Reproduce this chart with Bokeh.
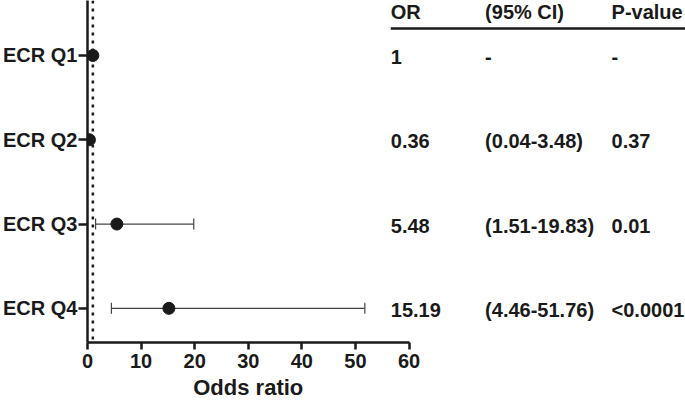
from bokeh.plotting import figure
from bokeh.models import Range1d, FixedTicker, Whisker, TeeHead, ColumnDataSource, Span, Label
from bokeh.core.properties import value
from bokeh.embed import file_html
from bokeh.resources import INLINE

categories = ["ECR Q1", "ECR Q2", "ECR Q3", "ECR Q4"]
odds_ratio = [1, 0.36, 5.48, 15.19]
# error bars drawn in the picture (only Q3 and Q4 show whiskers)
bar_categories = ["ECR Q3", "ECR Q4"]
bar_lower = [1.51, 4.46]
bar_upper = [19.83, 51.76]
or_text = ["1", "0.36", "5.48", "15.19"]
ci_text = ["-", "(0.04-3.48)", "(1.51-19.83)", "(4.46-51.76)"]
p_text = ["-", "0.37", "0.01", "<0.0001"]
headers = ["OR", "(95% CI)", "P-value"]
x_ticks = [0, 10, 20, 30, 40, 50, 60]
reference_line = 1

FONT = value("Liberation Sans")
INK = "#1a1a1a"
X_END = 111.6

ypos = [i + 1 for i in range(len(categories))]
pos_of = dict(zip(categories, ypos))

p = figure(width=685, height=410, output_backend="svg", toolbar_location=None,
           x_range=Range1d(0, X_END), y_range=Range1d(4.405, 0.348),
           min_border_left=86, min_border_right=0, min_border_top=0, min_border_bottom=68)
p.outline_line_color = None
p.grid.visible = False
p.background_fill_color = "white"

# axes
p.xaxis.bounds = (0, 60)
p.xaxis.ticker = FixedTicker(ticks=x_ticks)
p.xaxis.minor_tick_line_color = None
p.xaxis.major_tick_out = 7
p.xaxis.major_tick_in = 0
p.xaxis.axis_line_width = 2.5
p.xaxis.major_tick_line_width = 2.5
p.xaxis.axis_line_color = INK
p.xaxis.major_tick_line_color = INK
p.xaxis.major_label_text_font = "Liberation Sans"
p.xaxis.major_label_text_font_style = "bold"
p.xaxis.major_label_text_font_size = "20px"
p.xaxis.major_label_text_color = INK
p.xaxis.major_label_standoff = 4

p.yaxis.ticker = FixedTicker(ticks=ypos)
p.yaxis.major_label_overrides = {y: c for y, c in zip(ypos, categories)}
p.yaxis.minor_tick_line_color = None
p.yaxis.major_tick_out = 9
p.yaxis.major_tick_in = 0
p.yaxis.axis_line_width = 2.5
p.yaxis.major_tick_line_width = 2.5
p.yaxis.axis_line_color = INK
p.yaxis.major_tick_line_color = INK
p.yaxis.major_label_text_font = "Liberation Sans"
p.yaxis.major_label_text_font_style = "bold"
p.yaxis.major_label_text_font_size = "20px"
p.yaxis.major_label_text_color = INK
p.yaxis.major_label_standoff = 1

# reference line
p.add_layout(Span(location=reference_line, dimension="height", line_dash="3 5",
                  line_width=2.5, line_color=INK))

# error bars
wsrc = ColumnDataSource(dict(y=[pos_of[c] for c in bar_categories], lo=bar_lower, hi=bar_upper))
p.add_layout(Whisker(source=wsrc, base="y", lower="lo", upper="hi", dimension="width",
                     line_color="#444444", line_width=1.2,
                     lower_head=TeeHead(size=11, line_color="#444444", line_width=1.2),
                     upper_head=TeeHead(size=11, line_color="#444444", line_width=1.2)))

# points
p.scatter(x=odds_ratio, y=ypos, size=12, color=INK)

# table
col_x = [56.6, 74.2, 97.8]
row_y = [y + 0.02 for y in ypos]
for cx, col in zip(col_x, [or_text, ci_text, p_text]):
    p.text(x=[cx] * len(col), y=row_y, text=col, text_font=FONT, text_font_style="bold",
           text_font_size="20px", text_baseline="middle", text_align="left", text_color=INK)
p.text(x=col_x, y=[0.49] * 3, text=headers, text_font=FONT, text_font_style="bold",
       text_font_size="20px", text_baseline="middle", text_align="left", text_color=INK)
p.segment(x0=[col_x[0]], y0=[0.68], x1=[X_END], y1=[0.68], line_width=2.5, line_color=INK)

# x axis title centred under the 0-60 axis, in the panel below the axis
p.add_layout(Label(x=30, x_units="data", y=8, y_units="screen", text="Odds ratio",
                   text_align="center", text_baseline="middle",
                   text_font="Liberation Sans", text_font_style="bold",
                   text_font_size="22px", text_color=INK), "below")

open("out.html", "w").write(file_html(p, INLINE))
